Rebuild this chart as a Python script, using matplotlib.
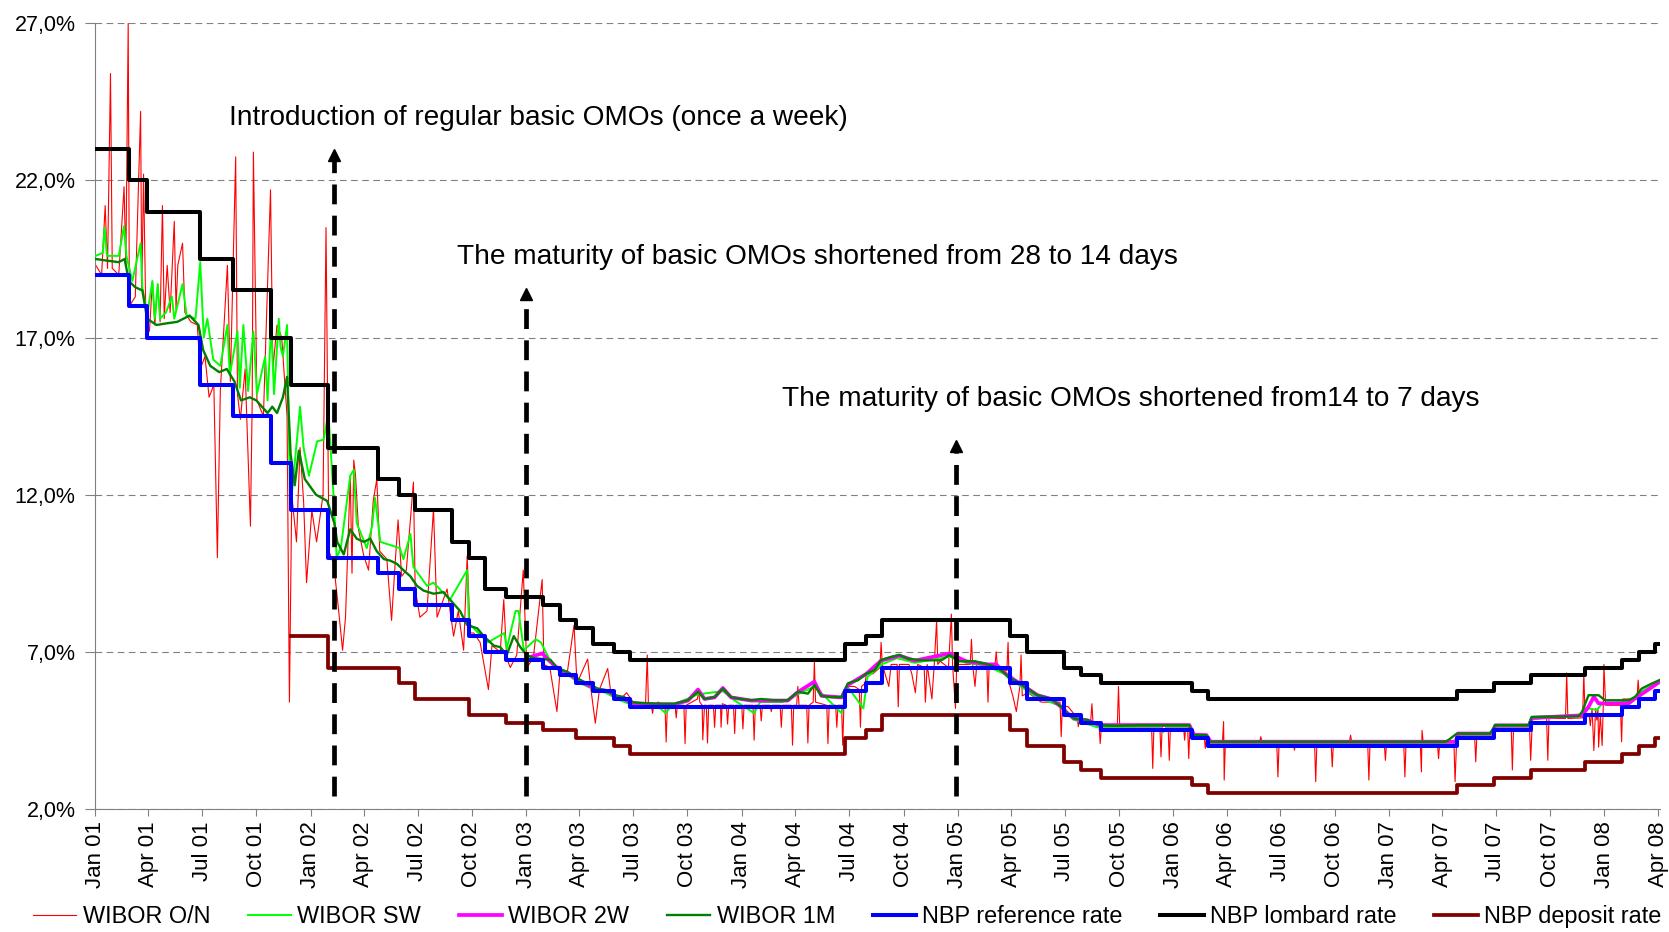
import numpy as np
import pandas as pd
import matplotlib
matplotlib.use("Agg")
import matplotlib.pyplot as plt
import matplotlib.dates as mdates
from matplotlib.ticker import FuncFormatter

plt.rcParams['font.family'] = ['Liberation Sans', 'DejaVu Sans']

# NBP policy rates: decision dates and levels
policy_dates = ['2001-01-01', '2001-02-28', '2001-03-29', '2001-06-28', '2001-08-23', '2001-10-25',
                '2001-11-29', '2002-01-31', '2002-04-25', '2002-05-30', '2002-06-27', '2002-08-29',
                '2002-09-26', '2002-10-24', '2002-11-28', '2003-01-30', '2003-02-27', '2003-03-27',
                '2003-04-24', '2003-05-29', '2003-06-26', '2004-06-24', '2004-07-29', '2004-08-26',
                '2005-03-31', '2005-04-28', '2005-06-30', '2005-07-28', '2005-09-01', '2006-02-01',
                '2006-03-01', '2007-04-26', '2007-06-28', '2007-08-30', '2007-11-29', '2008-01-31',
                '2008-02-28', '2008-03-27']
ref_rate = [19.0, 18.0, 17.0, 15.5, 14.5, 13.0, 11.5, 10.0, 9.5, 9.0, 8.5, 8.0, 7.5, 7.0, 6.75,
            6.5, 6.25, 6.0, 5.75, 5.5, 5.25, 5.75, 6.0, 6.5, 6.0, 5.5, 5.0, 4.75, 4.5, 4.25,
            4.0, 4.25, 4.5, 4.75, 5.0, 5.25, 5.5, 5.75]
lombard_rate = [23.0, 22.0, 21.0, 19.5, 18.5, 17.0, 15.5, 13.5, 12.5, 12.0, 11.5, 10.5, 10.0, 9.0, 8.75,
                8.5, 8.0, 7.75, 7.25, 7.0, 6.75, 7.25, 7.5, 8.0, 7.5, 7.0, 6.5, 6.25, 6.0, 5.75,
                5.5, 5.75, 6.0, 6.25, 6.5, 6.75, 7.0, 7.25]
deposit_rate = [np.nan, np.nan, np.nan, np.nan, np.nan, np.nan, 7.5, 6.5, 6.5, 6.0, 5.5, 5.5, 5.0, 5.0, 4.75,
                4.5, 4.5, 4.25, 4.25, 4.0, 3.75, 4.25, 4.5, 5.0, 4.5, 4.0, 3.5, 3.25, 3.0, 2.75,
                2.5, 2.75, 3.0, 3.25, 3.5, 3.75, 4.0, 4.25]
end_date = '2008-04-04'

# WIBOR O/N readings (date, %)
on_points = [
    ('2001-01-02', 19.3), ('2001-01-12', 19.0), ('2001-01-18', 21.2), ('2001-01-22', 19.2), ('2001-01-27', 25.4),
    ('2001-01-30', 19.2), ('2001-02-10', 19.0), ('2001-02-19', 21.8), ('2001-02-22', 19.3), ('2001-02-26', 27.0),
    ('2001-02-28', 18.0), ('2001-03-10', 18.3), ('2001-03-19', 24.2), ('2001-03-21', 18.5), ('2001-03-24', 22.2),
    ('2001-03-28', 17.5), ('2001-04-03', 17.2), ('2001-04-08', 18.8), ('2001-04-12', 17.4), ('2001-04-17', 18.7),
    ('2001-04-21', 17.5), ('2001-04-25', 21.2), ('2001-04-28', 17.6), ('2001-05-03', 19.3), ('2001-05-08', 17.8),
    ('2001-05-15', 20.7), ('2001-05-18', 17.9), ('2001-05-21', 19.3), ('2001-05-29', 20.0), ('2001-06-02', 17.8),
    ('2001-06-12', 17.5), ('2001-06-23', 17.4), ('2001-06-28', 16.0), ('2001-07-06', 16.4), ('2001-07-13', 15.1),
    ('2001-07-21', 15.5), ('2001-07-27', 10.0), ('2001-08-01', 15.3), ('2001-08-13', 19.3), ('2001-08-18', 15.6),
    ('2001-08-27', 22.75), ('2001-08-30', 15.2), ('2001-09-04', 14.4), ('2001-09-12', 16.0), ('2001-09-21', 11.0),
    ('2001-09-24', 15.0), ('2001-09-26', 22.9), ('2001-10-02', 15.0), ('2001-10-13', 14.5), ('2001-10-25', 21.7),
    ('2001-10-29', 16.0), ('2001-11-05', 17.4), ('2001-11-13', 17.0), ('2001-11-22', 14.5), ('2001-11-26', 5.4),
    ('2001-11-30', 12.0), ('2001-12-08', 10.5), ('2001-12-14', 13.5), ('2001-12-20', 11.8), ('2001-12-25', 9.2),
    ('2002-01-03', 11.5), ('2002-01-11', 10.5), ('2002-01-22', 12.0), ('2002-01-27', 20.5), ('2002-02-01', 10.2),
    ('2002-02-09', 9.8), ('2002-02-18', 8.2), ('2002-02-24', 7.05), ('2002-03-01', 8.1), ('2002-03-09', 12.6),
    ('2002-03-12', 9.5), ('2002-03-15', 13.1), ('2002-03-18', 12.6), ('2002-03-23', 10.9), ('2002-04-01', 10.05),
    ('2002-04-09', 9.6), ('2002-04-17', 11.8), ('2002-04-23', 12.5), ('2002-04-28', 10.2), ('2002-05-10', 9.95),
    ('2002-05-18', 8.0), ('2002-05-24', 9.8), ('2002-05-29', 11.2), ('2002-06-04', 9.4), ('2002-06-12', 9.6),
    ('2002-06-24', 12.4), ('2002-06-27', 9.0), ('2002-07-05', 8.1), ('2002-07-17', 8.3), ('2002-07-28', 11.56),
    ('2002-08-03', 8.1), ('2002-08-20', 9.0), ('2002-08-31', 7.5), ('2002-09-08', 8.3), ('2002-09-17', 7.05),
    ('2002-09-23', 10.05), ('2002-09-28', 7.6), ('2002-10-04', 7.6), ('2002-10-15', 7.3), ('2002-10-29', 5.8),
    ('2002-11-04', 7.2), ('2002-11-18', 7.0), ('2002-11-24', 8.66), ('2002-11-29', 6.8), ('2002-12-05', 6.5),
    ('2002-12-16', 6.9), ('2002-12-27', 9.6), ('2003-01-02', 6.5), ('2003-01-13', 6.8), ('2003-01-28', 9.3),
    ('2003-01-31', 6.6), ('2003-02-10', 6.5), ('2003-02-22', 5.1), ('2003-02-27', 6.3), ('2003-03-12', 6.4),
    ('2003-03-23', 7.85), ('2003-03-28', 6.0), ('2003-04-15', 6.77), ('2003-04-20', 5.9), ('2003-04-28', 4.73),
    ('2003-05-05', 5.8), ('2003-05-19', 6.47), ('2003-05-25', 5.6), ('2003-06-10', 5.5), ('2003-06-20', 5.7),
    ('2003-07-05', 5.3), ('2003-07-22', 5.3), ('2003-07-25', 6.9), ('2003-07-27', 5.3), ('2003-08-01', 5.3),
    ('2003-08-03', 5.04), ('2003-08-05', 5.3), ('2003-08-12', 5.4), ('2003-08-24', 5.3), ('2003-08-26', 4.13),
    ('2003-08-28', 5.3), ('2003-09-10', 5.3), ('2003-09-12', 4.9), ('2003-09-14', 5.3), ('2003-09-25', 5.3),
    ('2003-09-27', 4.08), ('2003-09-29', 5.3), ('2003-10-18', 5.5), ('2003-10-20', 5.8), ('2003-10-22', 5.4),
    ('2003-10-26', 5.3), ('2003-10-27', 4.2), ('2003-10-30', 5.3), ('2003-11-02', 5.3), ('2003-11-04', 4.1),
    ('2003-11-06', 5.3), ('2003-11-14', 5.3), ('2003-11-16', 4.6), ('2003-11-18', 5.3), ('2003-11-26', 5.3),
    ('2003-11-27', 4.6), ('2003-11-29', 5.35), ('2003-12-06', 5.3), ('2003-12-08', 4.7), ('2003-12-10', 5.3),
    ('2003-12-18', 5.3), ('2003-12-20', 4.4), ('2003-12-22', 5.3), ('2004-01-01', 5.3), ('2004-01-03', 4.55),
    ('2004-01-05', 5.3), ('2004-01-20', 5.3), ('2004-01-22', 4.19), ('2004-01-24', 5.3), ('2004-02-01', 5.3),
    ('2004-02-03', 4.8), ('2004-02-05', 5.3), ('2004-02-18', 5.3), ('2004-02-20', 5.1), ('2004-02-22', 5.3),
    ('2004-03-06', 5.3), ('2004-03-08', 4.6), ('2004-03-10', 5.3), ('2004-03-25', 5.3), ('2004-03-27', 4.03),
    ('2004-03-29', 5.3), ('2004-04-03', 5.3), ('2004-04-05', 5.9), ('2004-04-07', 5.3), ('2004-04-20', 5.3),
    ('2004-04-22', 4.1), ('2004-04-24', 5.3), ('2004-05-01', 5.4), ('2004-05-03', 6.7), ('2004-05-05', 5.4),
    ('2004-05-24', 5.3), ('2004-05-26', 4.08), ('2004-05-28', 5.3), ('2004-06-08', 5.3), ('2004-06-10', 4.6),
    ('2004-06-12', 5.3), ('2004-06-18', 5.3), ('2004-06-20', 4.03), ('2004-06-22', 5.3), ('2004-06-26', 5.9),
    ('2004-07-10', 5.9), ('2004-07-18', 5.8), ('2004-07-20', 4.6), ('2004-07-22', 5.9), ('2004-07-28', 6.0),
    ('2004-07-30', 6.3), ('2004-08-10', 6.3), ('2004-08-22', 6.5), ('2004-08-24', 7.3), ('2004-08-26', 6.6),
    ('2004-09-06', 5.9), ('2004-09-10', 6.6), ('2004-09-20', 6.6), ('2004-09-22', 5.25), ('2004-09-24', 6.6),
    ('2004-10-10', 6.6), ('2004-10-15', 6.3), ('2004-10-21', 5.7), ('2004-10-25', 6.6), ('2004-11-05', 6.5),
    ('2004-11-07', 5.4), ('2004-11-10', 6.6), ('2004-11-18', 5.5), ('2004-11-22', 6.6), ('2004-11-26', 8.0),
    ('2004-11-28', 6.6), ('2004-12-02', 6.7), ('2004-12-16', 6.5), ('2004-12-21', 8.2), ('2004-12-23', 6.6),
    ('2004-12-28', 5.2), ('2004-12-30', 6.6), ('2005-01-07', 6.6), ('2005-01-22', 6.6), ('2005-01-24', 7.4),
    ('2005-01-26', 6.6), ('2005-01-30', 5.9), ('2005-02-02', 6.6), ('2005-02-19', 6.6), ('2005-02-21', 5.4),
    ('2005-02-23', 6.6), ('2005-03-05', 6.6), ('2005-03-07', 7.0), ('2005-03-09', 6.5), ('2005-03-13', 6.4),
    ('2005-03-25', 6.4), ('2005-03-27', 7.3), ('2005-03-29', 6.0), ('2005-04-04', 5.6), ('2005-04-10', 5.1),
    ('2005-04-16', 5.9), ('2005-04-18', 6.9), ('2005-04-20', 5.6), ('2005-04-30', 5.7), ('2005-05-22', 5.4),
    ('2005-06-14', 5.4), ('2005-06-23', 5.4), ('2005-06-25', 4.3), ('2005-06-27', 5.3), ('2005-07-07', 5.25),
    ('2005-07-22', 4.9), ('2005-07-24', 4.62), ('2005-07-26', 4.9), ('2005-08-04', 4.8), ('2005-08-14', 4.8),
    ('2005-08-16', 5.35), ('2005-08-18', 4.7), ('2005-08-28', 4.7), ('2005-08-30', 4.08), ('2005-09-01', 4.6),
    ('2005-09-08', 4.6), ('2005-09-28', 4.65), ('2005-09-30', 5.9), ('2005-10-02', 4.65), ('2005-10-27', 4.65),
    ('2005-11-25', 4.65), ('2005-11-27', 3.29), ('2005-11-29', 4.65), ('2005-12-09', 4.65), ('2005-12-11', 3.66),
    ('2005-12-13', 4.65), ('2005-12-23', 4.65), ('2005-12-25', 3.55), ('2005-12-27', 4.65), ('2006-01-18', 4.65),
    ('2006-01-20', 4.19), ('2006-01-22', 4.65), ('2006-01-25', 4.65), ('2006-01-27', 3.6), ('2006-01-29', 4.65),
    ('2006-02-02', 4.35), ('2006-02-22', 4.35), ('2006-02-24', 3.93), ('2006-02-26', 4.3), ('2006-03-02', 4.12),
    ('2006-03-25', 4.12), ('2006-03-27', 4.78), ('2006-03-28', 2.92), ('2006-03-30', 4.12), ('2006-05-27', 4.12),
    ('2006-05-29', 4.3), ('2006-05-31', 4.12), ('2006-06-25', 4.12), ('2006-06-27', 3.02), ('2006-06-29', 4.12),
    ('2006-07-23', 4.12), ('2006-07-25', 3.87), ('2006-07-27', 4.12), ('2006-08-28', 4.12), ('2006-08-30', 2.87),
    ('2006-09-01', 4.12), ('2006-09-25', 4.12), ('2006-09-27', 3.34), ('2006-09-29', 4.12), ('2006-10-26', 4.12),
    ('2006-10-28', 4.35), ('2006-10-30', 4.12), ('2006-11-26', 4.12), ('2006-11-28', 2.92), ('2006-11-30', 4.12),
    ('2006-12-24', 4.12), ('2006-12-26', 3.55), ('2006-12-28', 4.12), ('2007-01-26', 4.12), ('2007-01-28', 3.02),
    ('2007-01-30', 4.12), ('2007-02-23', 4.12), ('2007-02-25', 3.18), ('2007-02-26', 4.5), ('2007-02-28', 4.12),
    ('2007-03-24', 4.12), ('2007-03-26', 3.6), ('2007-03-28', 4.12), ('2007-04-21', 4.12), ('2007-04-23', 2.87),
    ('2007-04-26', 4.38), ('2007-05-26', 4.38), ('2007-05-28', 3.5), ('2007-05-30', 4.38), ('2007-06-26', 4.38),
    ('2007-06-28', 4.62), ('2007-07-27', 4.62), ('2007-07-29', 3.24), ('2007-07-31', 4.62), ('2007-08-27', 4.62),
    ('2007-08-29', 3.55), ('2007-09-01', 4.88), ('2007-09-25', 4.88), ('2007-09-27', 3.55), ('2007-09-29', 4.88),
    ('2007-10-27', 4.88), ('2007-10-29', 6.33), ('2007-10-31', 4.88), ('2007-11-25', 4.9), ('2007-11-27', 6.33),
    ('2007-11-29', 5.0), ('2007-12-06', 5.0), ('2007-12-08', 4.65), ('2007-12-11', 5.2), ('2007-12-14', 3.86),
    ('2007-12-17', 5.2), ('2007-12-19', 4.83), ('2007-12-21', 5.2), ('2007-12-22', 3.97), ('2007-12-25', 5.0),
    ('2007-12-28', 4.02), ('2007-12-30', 5.3), ('2007-12-31', 6.6), ('2008-01-03', 5.3), ('2008-01-28', 5.3),
    ('2008-01-30', 4.14), ('2008-02-01', 5.5), ('2008-02-25', 5.5), ('2008-02-27', 6.1), ('2008-02-29', 5.6),
    ('2008-03-18', 5.9), ('2008-04-03', 6.0),
]

# WIBOR SW readings
sw_points = [
    ('2001-01-02', 19.6), ('2001-01-14', 19.7), ('2001-01-17', 20.5), ('2001-01-21', 19.6), ('2001-02-10', 19.6),
    ('2001-02-19', 20.55), ('2001-02-23', 19.6), ('2001-03-05', 18.8), ('2001-03-19', 20.0), ('2001-03-22', 18.6),
    ('2001-03-30', 17.7), ('2001-04-08', 18.8), ('2001-04-12', 17.6), ('2001-04-17', 18.7), ('2001-04-21', 17.6),
    ('2001-05-01', 17.8), ('2001-05-11', 18.3), ('2001-05-15', 17.6), ('2001-05-29', 18.7), ('2001-06-05', 17.7),
    ('2001-06-20', 17.6), ('2001-06-28', 19.4), ('2001-07-04', 17.0), ('2001-07-10', 17.6), ('2001-07-20', 16.3),
    ('2001-08-01', 16.1), ('2001-08-13', 17.4), ('2001-08-17', 15.8), ('2001-08-30', 17.2), ('2001-09-03', 15.4),
    ('2001-09-09', 17.4), ('2001-09-17', 15.3), ('2001-09-26', 17.2), ('2001-10-02', 15.2), ('2001-10-16', 16.4),
    ('2001-10-20', 15.0), ('2001-10-26', 17.4), ('2001-10-31', 15.2), ('2001-11-08', 17.6), ('2001-11-11', 16.7),
    ('2001-11-15', 16.4), ('2001-11-22', 17.4), ('2001-11-27', 11.8), ('2001-12-01', 12.2), ('2001-12-14', 14.8),
    ('2001-12-20', 13.5), ('2001-12-29', 12.6), ('2002-01-12', 13.7), ('2002-01-23', 13.75), ('2002-01-31', 14.6),
    ('2002-02-09', 11.9), ('2002-02-14', 10.0), ('2002-02-21', 10.3), ('2002-03-09', 12.6), ('2002-03-15', 12.8),
    ('2002-03-20', 11.1), ('2002-04-06', 10.3), ('2002-04-15', 11.0), ('2002-04-20', 11.9), ('2002-04-29', 10.5),
    ('2002-06-01', 10.3), ('2002-06-07', 9.95), ('2002-06-19', 10.75), ('2002-06-24', 9.7), ('2002-07-17', 9.1),
    ('2002-07-28', 9.2), ('2002-08-25', 8.66), ('2002-09-23', 9.6), ('2002-09-26', 7.9), ('2002-10-28', 7.3),
    ('2002-11-25', 7.6), ('2002-11-29', 7.1), ('2002-12-14', 8.3), ('2002-12-19', 8.3), ('2002-12-28', 7.05),
    ('2003-01-17', 7.4), ('2003-01-26', 7.3), ('2003-02-15', 6.55), ('2003-03-10', 6.3), ('2003-03-28', 6.05),
    ('2003-04-20', 5.85), ('2003-05-15', 5.7), ('2003-06-10', 5.45), ('2003-07-01', 5.3), ('2003-08-10', 5.3),
    ('2003-08-25', 5.05), ('2003-09-05', 5.3), ('2003-10-19', 5.65), ('2003-11-30', 5.75), ('2003-12-20', 5.45),
    ('2004-01-22', 5.05), ('2004-02-01', 5.4), ('2004-03-10', 5.4), ('2004-04-05', 5.65), ('2004-05-03', 5.9),
    ('2004-05-25', 5.5), ('2004-06-18', 5.05), ('2004-06-28', 5.9), ('2004-07-25', 5.2), ('2004-08-01', 6.2),
    ('2004-08-25', 6.6), ('2004-09-20', 6.8), ('2004-10-20', 6.65), ('2004-12-18', 6.85), ('2005-01-15', 6.65),
    ('2005-02-20', 6.55), ('2005-03-20', 6.3), ('2005-04-10', 6.0), ('2005-05-10', 5.6), ('2005-06-20', 5.3),
    ('2005-07-15', 4.85), ('2005-08-25', 4.6), ('2005-09-15', 4.6), ('2005-12-10', 4.6), ('2005-12-15', 4.45),
    ('2005-12-20', 4.6), ('2006-01-28', 4.6), ('2006-02-05', 4.32), ('2006-02-27', 4.3), ('2006-03-05', 4.1),
    ('2007-04-15', 4.1), ('2007-04-24', 4.1), ('2007-04-28', 4.35), ('2007-06-26', 4.35), ('2007-06-30', 4.6),
    ('2007-08-27', 4.6), ('2007-08-31', 4.85), ('2007-11-25', 5.0), ('2007-12-05', 5.2), ('2007-12-19', 5.15),
    ('2007-12-28', 5.35), ('2008-02-10', 5.4), ('2008-03-05', 5.75), ('2008-04-03', 6.05),
]

# WIBOR 2W readings
w2_points = [
    ('2003-01-10', 6.85), ('2003-01-28', 6.95), ('2003-02-10', 6.7), ('2003-02-25', 6.45), ('2003-03-15', 6.3),
    ('2003-03-29', 6.1), ('2003-04-15', 5.95), ('2003-05-02', 5.8), ('2003-05-19', 5.75), ('2003-06-01', 5.6),
    ('2003-06-16', 5.5), ('2003-06-28', 5.37), ('2003-08-12', 5.33), ('2003-09-09', 5.33), ('2003-10-02', 5.45),
    ('2003-10-19', 5.8), ('2003-10-30', 5.5), ('2003-11-16', 5.55), ('2003-11-30', 5.85), ('2003-12-14', 5.55),
    ('2004-01-17', 5.45), ('2004-02-25', 5.45), ('2004-03-19', 5.45), ('2004-04-05', 5.72), ('2004-05-03', 6.05),
    ('2004-05-15', 5.6), ('2004-06-18', 5.55), ('2004-06-29', 5.95), ('2004-07-30', 6.3), ('2004-08-24', 6.72),
    ('2004-09-24', 6.88), ('2004-10-20', 6.72), ('2004-12-18', 6.95), ('2005-01-15', 6.7), ('2005-02-21', 6.6),
    ('2005-03-07', 6.6), ('2005-03-21', 6.33), ('2005-04-07', 6.1), ('2005-04-24', 5.9), ('2005-05-16', 5.62),
    ('2005-06-08', 5.5), ('2005-06-25', 5.25), ('2005-07-06', 5.04), ('2005-07-17', 4.88), ('2005-08-09', 4.82),
    ('2005-08-28', 4.67), ('2006-01-28', 4.67), ('2006-02-05', 4.36), ('2006-02-26', 4.35), ('2006-03-05', 4.14),
    ('2007-04-10', 4.14), ('2007-04-24', 4.14), ('2007-04-28', 4.40), ('2007-06-26', 4.40), ('2007-06-30', 4.66),
    ('2007-08-27', 4.66), ('2007-08-31', 4.9), ('2007-11-24', 4.98), ('2007-12-05', 5.25), ('2007-12-14', 5.57),
    ('2007-12-22', 5.36), ('2008-02-11', 5.36), ('2008-02-22', 5.52), ('2008-03-10', 5.73), ('2008-04-03', 6.04),
]

# WIBOR 1M readings
m1_points = [
    ('2001-01-02', 19.5), ('2001-01-20', 19.45), ('2001-02-10', 19.4), ('2001-02-20', 19.5), ('2001-02-27', 18.8),
    ('2001-03-10', 18.6), ('2001-03-22', 18.5), ('2001-03-30', 17.6), ('2001-04-15', 17.4), ('2001-05-01', 17.45),
    ('2001-05-20', 17.5), ('2001-06-10', 17.7), ('2001-06-25', 17.4), ('2001-07-03', 16.6), ('2001-07-15', 16.1),
    ('2001-07-30', 15.9), ('2001-08-12', 16.0), ('2001-08-25', 15.6), ('2001-09-05', 15.0), ('2001-09-20', 15.1),
    ('2001-10-01', 15.0), ('2001-10-20', 14.6), ('2001-10-28', 14.8), ('2001-11-05', 14.6), ('2001-11-15', 15.1),
    ('2001-11-22', 15.75), ('2001-11-28', 13.3), ('2001-12-05', 12.3), ('2001-12-12', 13.4), ('2001-12-22', 12.5),
    ('2002-01-10', 12.0), ('2002-01-29', 11.8), ('2002-02-10', 11.1), ('2002-02-15', 10.5), ('2002-02-26', 10.1),
    ('2002-03-09', 10.9), ('2002-03-20', 10.6), ('2002-04-01', 10.5), ('2002-04-12', 10.6), ('2002-04-23', 10.2),
    ('2002-05-05', 9.95), ('2002-05-16', 9.9), ('2002-05-27', 9.8), ('2002-06-07', 9.6), ('2002-06-19', 9.4),
    ('2002-06-30', 9.1), ('2002-07-11', 8.95), ('2002-07-28', 8.85), ('2002-08-14', 8.9), ('2002-08-25', 8.66),
    ('2002-09-11', 8.3), ('2002-09-23', 7.85), ('2002-10-10', 7.75), ('2002-10-21', 7.5), ('2002-11-07', 7.2),
    ('2002-11-18', 7.15), ('2002-11-29', 6.9), ('2002-12-11', 7.5), ('2002-12-22', 7.15), ('2003-01-02', 6.9),
    ('2003-01-13', 6.8), ('2003-02-11', 6.75), ('2003-02-23', 6.47), ('2003-03-12', 6.36), ('2003-03-29', 6.15),
    ('2003-04-15', 5.99), ('2003-05-02', 5.83), ('2003-05-19', 5.77), ('2003-05-30', 5.62), ('2003-06-16', 5.56),
    ('2003-06-28', 5.4), ('2003-07-15', 5.37), ('2003-08-12', 5.35), ('2003-09-09', 5.35), ('2003-10-02', 5.46),
    ('2003-10-19', 5.73), ('2003-10-30', 5.5), ('2003-11-16', 5.56), ('2003-11-30', 5.83), ('2003-12-14', 5.56),
    ('2003-12-31', 5.5), ('2004-01-17', 5.46), ('2004-02-03', 5.5), ('2004-02-25', 5.46), ('2004-03-19', 5.46),
    ('2004-04-05', 5.73), ('2004-04-22', 5.67), ('2004-05-03', 5.94), ('2004-05-15', 5.6), ('2004-06-01', 5.56),
    ('2004-06-18', 5.56), ('2004-06-29', 6.0), ('2004-07-16', 6.1), ('2004-07-30', 6.31), ('2004-08-13', 6.42),
    ('2004-08-24', 6.74), ('2004-09-10', 6.84), ('2004-09-24', 6.9), ('2004-10-09', 6.78), ('2004-11-01', 6.73),
    ('2004-12-04', 6.73), ('2004-12-18', 6.9), ('2005-01-02', 6.7), ('2005-01-30', 6.7), ('2005-02-21', 6.6),
    ('2005-03-10', 6.49), ('2005-03-21', 6.33), ('2005-03-29', 6.15), ('2005-04-07', 6.1), ('2005-04-24', 5.89),
    ('2005-05-16', 5.62), ('2005-06-08', 5.51), ('2005-06-25', 5.25), ('2005-07-06', 5.04), ('2005-07-17', 4.88),
    ('2005-08-09', 4.83), ('2005-08-28', 4.67), ('2005-09-23', 4.65), ('2005-11-07', 4.67), ('2006-01-28', 4.67),
    ('2006-02-03', 4.35), ('2006-02-26', 4.35), ('2006-03-03', 4.14), ('2007-04-07', 4.14), ('2007-04-12', 4.2),
    ('2007-04-26', 4.40), ('2007-06-21', 4.40), ('2007-06-30', 4.67), ('2007-08-25', 4.67), ('2007-08-31', 4.93),
    ('2007-11-18', 4.95), ('2007-11-24', 5.09), ('2007-12-05', 5.62), ('2007-12-22', 5.62), ('2008-01-02', 5.46),
    ('2008-02-11', 5.46), ('2008-02-22', 5.57), ('2008-03-04', 5.83), ('2008-03-21', 5.99), ('2008-04-03', 6.10),
]

# annotations
notes = ["Introduction of regular basic OMOs (once a week)",
         "The maturity of basic OMOs shortened from 28 to 14 days",
         "The maturity of basic OMOs shortened from14 to 7 days"]
note_text_dates = ['2001-08-15', '2002-09-06', '2004-03-09']
note_text_y = [24.0, 19.55, 15.04]
note_arrow_dates = ['2002-02-09', '2002-12-31', '2004-12-29']
note_arrow_tops = [23.0, 18.6, 13.75]


def unzip(points):
    d, v = zip(*points)
    return pd.to_datetime(list(d)), list(v)


fig = plt.figure(figsize=(16.69, 9.32), dpi=100)
ax = fig.add_axes([0.057, 0.132, 0.9376, 0.843])

x, y = unzip(on_points)
ax.plot(x, y, color='#FF0000', lw=0.8, label='WIBOR O/N', zorder=2)
x, y = unzip(sw_points)
ax.plot(x, y, color='#00FF00', lw=1.4, label='WIBOR SW', zorder=3)
x, y = unzip(w2_points)
ax.plot(x, y, color='#FF00FF', lw=2.7, label='WIBOR 2W', zorder=4)
x, y = unzip(m1_points)
ax.plot(x, y, color='#008000', lw=1.7, label='WIBOR 1M', zorder=5)

step_x = pd.to_datetime(policy_dates + [end_date])
ax.step(step_x, ref_rate + [ref_rate[-1]], where='post', color='#0000FF', lw=2.9,
        label='NBP reference rate', zorder=6)
ax.step(step_x, lombard_rate + [lombard_rate[-1]], where='post', color='black', lw=2.9,
        label='NBP lombard rate', zorder=6)
ax.step(step_x, deposit_rate + [deposit_rate[-1]], where='post', color='#800000', lw=2.7,
        label='NBP deposit rate', zorder=6)

# dashed arrows with notes
for d, top in zip(note_arrow_dates, note_arrow_tops):
    xd = pd.Timestamp(d)
    ax.plot([xd, xd], [2.4, top - 0.35], color='black', lw=3.4, ls=(0, (4.2, 2.4)), zorder=7)
    ax.plot([xd], [top - 0.2], marker='^', ms=9, color='black', zorder=7)
for txt, d, yy in zip(notes, note_text_dates, note_text_y):
    ax.text(pd.Timestamp(d), yy, txt, fontsize=20.2, va='center', ha='left')

ax.set_ylim(2, 27)
ax.set_yticks(np.arange(2, 28, 5))
ax.yaxis.set_major_formatter(FuncFormatter(lambda v, p: f"{v:.1f}".replace('.', ',') + '%'))
ax.set_xlim(pd.Timestamp('2001-01-01'), pd.Timestamp(end_date))
ax.xaxis.set_major_locator(mdates.MonthLocator(bymonth=[1, 4, 7, 10]))
ax.xaxis.set_major_formatter(mdates.DateFormatter('%b %y'))
for lab in ax.get_xticklabels():
    lab.set_rotation(90)

ax.grid(axis='y', color='#808080', ls=(0, (6, 4)), lw=0.8)
ax.set_axisbelow(True)
for s in ['top', 'right']:
    ax.spines[s].set_visible(False)
for s in ['left', 'bottom']:
    ax.spines[s].set_color('#808080')
ax.tick_params(axis='y', colors='#808080', labelcolor='black', length=7, pad=7, labelsize=15.5)
ax.tick_params(axis='x', colors='#808080', labelcolor='black', length=5, pad=4, labelsize=16)

fig.legend(loc='center', bbox_to_anchor=(0.5075, 0.0165), ncol=7, frameon=False,
           fontsize=16.9, handlelength=1.85, handletextpad=0.27, columnspacing=1.6,
           borderpad=0.2)

fig.savefig('out.png', dpi=100)
